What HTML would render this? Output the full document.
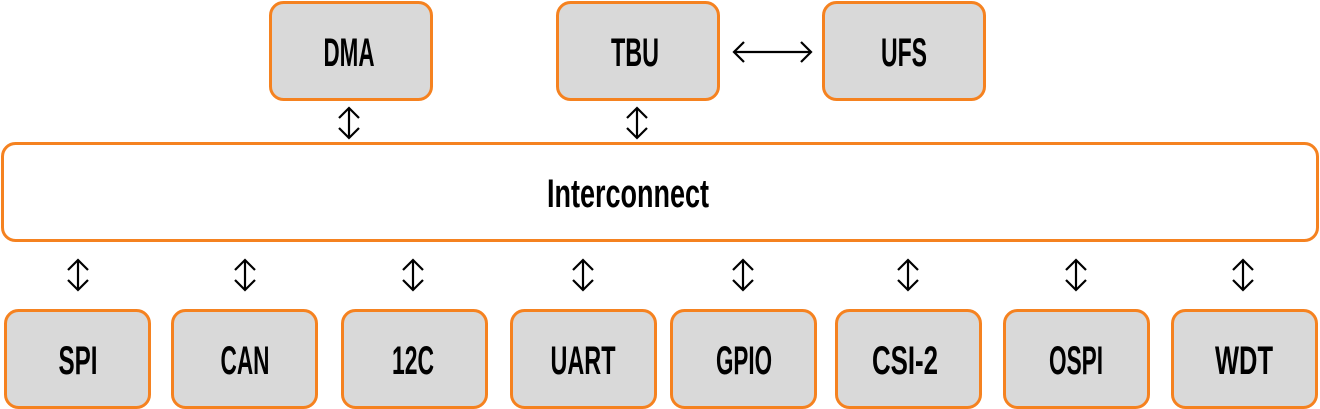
<!DOCTYPE html>
<html><head><meta charset="utf-8"><style>
html,body{margin:0;padding:0;background:#fff}
svg{display:block}
text{font-family:"Liberation Sans Narrow","Liberation Sans",sans-serif;font-weight:bold;font-size:40px;fill:#000}
</style></head><body>
<svg width="1320" height="409" viewBox="0 0 1320 409" xmlns="http://www.w3.org/2000/svg">
<defs>
<g id="va" fill="none" stroke="#000" stroke-width="2.2">
<line x1="0" y1="-15" x2="0" y2="15"/>
<polyline points="-10,-5 0,-15 10,-5"/>
<polyline points="-10,5 0,15 10,5"/>
</g>
</defs>
<g fill="#d9d9d9" stroke="#f58220" stroke-width="3">
<rect x="270.5" y="2.5" width="161" height="97" rx="13"/>
<rect x="557.5" y="2.5" width="161" height="97" rx="13"/>
<rect x="823.5" y="2.5" width="161" height="97" rx="13"/>
<rect x="2.5" y="143.5" width="1315" height="97" rx="13" fill="#fff"/>
<rect x="5.5" y="310.5" width="144" height="97" rx="13"/>
<rect x="172.5" y="310.5" width="144" height="97" rx="13"/>
<rect x="342.5" y="310.5" width="144" height="97" rx="13"/>
<rect x="511.5" y="310.5" width="144" height="97" rx="13"/>
<rect x="671.5" y="310.5" width="144" height="97" rx="13"/>
<rect x="836.5" y="310.5" width="144" height="97" rx="13"/>
<rect x="1004.5" y="310.5" width="144" height="97" rx="13"/>
<rect x="1172.5" y="310.5" width="144" height="97" rx="13"/>
</g>
<use href="#va" x="349" y="123"/>
<use href="#va" x="637" y="123"/>
<use href="#va" x="78" y="275"/>
<use href="#va" x="245" y="275"/>
<use href="#va" x="413" y="275"/>
<use href="#va" x="583" y="275"/>
<use href="#va" x="743" y="275"/>
<use href="#va" x="908" y="275"/>
<use href="#va" x="1076" y="275"/>
<use href="#va" x="1243" y="275"/>
<g fill="none" stroke="#000" stroke-width="2.2">
<line x1="734" y1="52" x2="811" y2="52"/>
<polyline points="744,42 734,52 744,62"/>
<polyline points="801,42 811,52 801,62"/>
</g>
<g text-anchor="middle">
<text x="349" y="66" textLength="51" lengthAdjust="spacingAndGlyphs">DMA</text>
<text x="635" y="66" textLength="48" lengthAdjust="spacingAndGlyphs">TBU</text>
<text x="904" y="66" textLength="46" lengthAdjust="spacingAndGlyphs">UFS</text>
<text x="628" y="207" textLength="162" lengthAdjust="spacingAndGlyphs">Interconnect</text>
<text x="78" y="374" textLength="39" lengthAdjust="spacingAndGlyphs">SPI</text>
<text x="245" y="374" textLength="49" lengthAdjust="spacingAndGlyphs">CAN</text>
<text x="413" y="374" textLength="42" lengthAdjust="spacingAndGlyphs">12C</text>
<text x="583" y="374" textLength="65" lengthAdjust="spacingAndGlyphs">UART</text>
<text x="744" y="374" textLength="56" lengthAdjust="spacingAndGlyphs">GPIO</text>
<text x="905" y="374" textLength="66" lengthAdjust="spacingAndGlyphs">CSI-2</text>
<text x="1076" y="374" textLength="54" lengthAdjust="spacingAndGlyphs">OSPI</text>
<text x="1244" y="374" textLength="58" lengthAdjust="spacingAndGlyphs">WDT</text>
</g>
</svg>
</body></html>
